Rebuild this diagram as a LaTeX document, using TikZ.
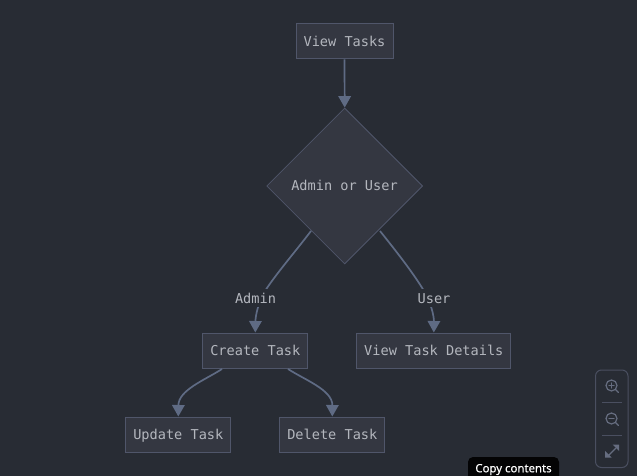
\documentclass[tikz,border=0pt]{standalone}
\usepackage{fontspec}
\setmonofont{DejaVu Sans Mono}
\setsansfont{Noto Sans}
\usetikzlibrary{shapes.geometric,arrows.meta}
\definecolor{bgc}{HTML}{282C34}
\definecolor{nodefill}{HTML}{343741}
\definecolor{nodeline}{HTML}{50566A}
\definecolor{edgec}{HTML}{5F6B84}
\definecolor{textc}{HTML}{B4B7BE}
\definecolor{toolc}{HTML}{4A4F60}
\definecolor{iconc}{HTML}{666D80}
\tikzset{
  x=1pt,y=-1pt,
  txt/.style={font=\ttfamily\fontsize{13.6pt}{16pt}\selectfont,text=textc,text height=10pt,text depth=0pt},
  box/.style={txt,draw=nodeline,fill=nodefill,line width=1pt,rectangle,inner sep=0pt,minimum height=35pt},
  dec/.style={draw=nodeline,fill=nodefill,line width=.8pt,diamond,inner sep=0pt,minimum width=156pt,minimum height=156pt,aspect=1},
  lab/.style={txt,fill=bgc,inner xsep=1pt,inner ysep=4pt},
  edge/.style={draw=edgec,line width=1.7pt,-{Triangle[length=11.5pt,width=12.5pt,fill=edgec]}},
  icon/.style={draw=iconc,line width=1.2pt,line cap=round},
}
\begin{document}
\begin{tikzpicture}
\useasboundingbox (0,0) rectangle (637,476);
\fill[bgc] (0,0) rectangle (637,476);
\node[box,minimum width=97pt] (view) at (344.5,41.3) {View Tasks};
\node[dec] (choice) at (344.7,186) {};
\node[txt] (choicetext) at (344.5,185.5) {Admin or User};
\node[box,minimum width=105pt] (create) at (255.3,350.5) {Create Task};
\node[box,minimum width=154pt] (details) at (433.8,350.5) {View Task Details};
\node[box,minimum width=105pt] (update) at (178.3,434.5) {Update Task};
\node[box,minimum width=105pt] (delete) at (332.3,434.5) {Delete Task};
\coordinate (c1) at (311,231);
\coordinate (c2) at (380,231);
\coordinate (u1) at (222,369);
\coordinate (d1) at (288,369);
\draw[edge] (view.south) -- (choice.north);
\draw[edge] (c1) .. controls (295,252) and (276,274) .. (265,291)
  .. controls (258,303) and (255.5,316) .. (create.north);
\draw[edge] (c2) .. controls (396,251) and (414,274) .. (424,291)
  .. controls (431,303) and (434,316) .. (details.north);
\draw[edge] (u1) .. controls (205,380) and (178.5,390) .. (update.north);
\draw[edge] (d1) .. controls (305,380) and (332.5,390) .. (delete.north);
\node[lab] (ladmin) at (255.5,298) {Admin};
\node[lab] (luser) at (434,298) {User};
% zoom toolbar
\draw[toolc,line width=1pt,rounded corners=6pt] (595.5,370) rectangle (628,467.5);
\draw[toolc,line width=.8pt] (602,402.5) -- (622,402.5) (602,435.5) -- (622,435.5);
\draw[icon] (611.5,385.5) circle (5.5);
\draw[icon] (615.5,389.5) -- (618.5,392.5);
\draw[icon] (611.5,383) -- (611.5,388) (609,385.5) -- (614,385.5);
\draw[icon] (611.5,418.5) circle (5.5);
\draw[icon] (615.5,422.5) -- (618.5,425.5);
\draw[icon] (609,418.5) -- (614,418.5);
\draw[icon] (608,456) -- (616,448);
\fill[iconc] (612.5,444.5) -- (619,444.5) -- (619,451) -- cycle;
\fill[iconc] (605,451) -- (605,457.5) -- (611.5,457.5) -- cycle;
% tooltip
\begin{scope}
\clip (0,0) rectangle (637,476);
\fill[black!90!bgc,rounded corners=5pt] (468,457) rectangle (559,490);
\node[font=\sffamily\fontsize{11.4pt}{14pt}\selectfont,text=white,inner sep=0pt] (tip) at (513.5,469.5) {\addfontfeature{FakeBold=0.25}Copy contents};
\end{scope}
\end{tikzpicture}
\end{document}
